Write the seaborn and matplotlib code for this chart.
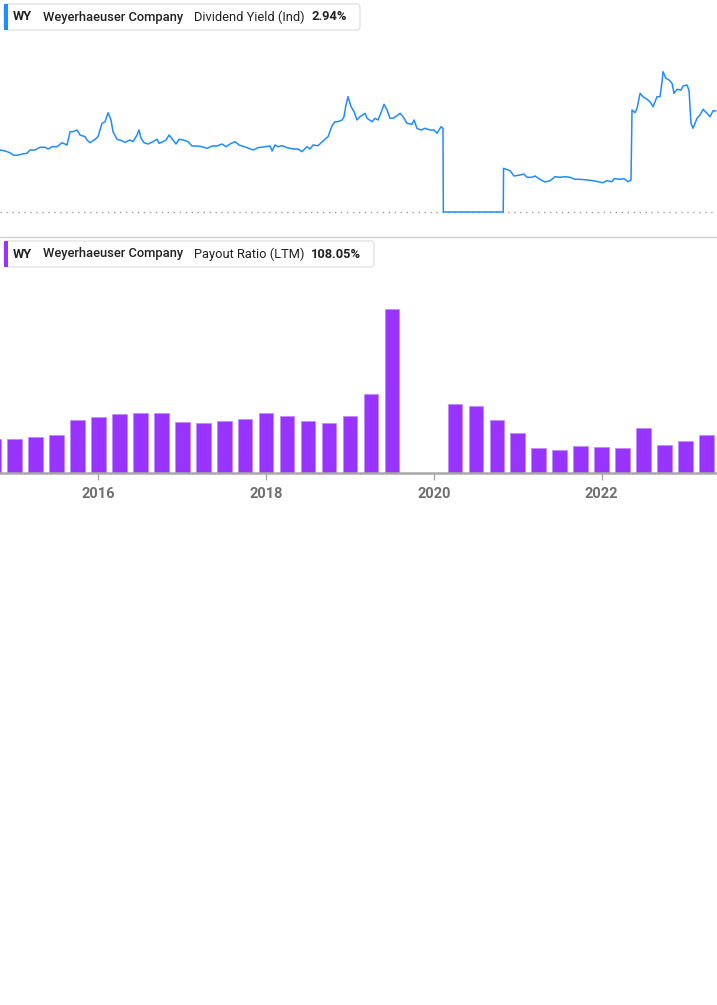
import numpy as np
import pandas as pd
import matplotlib
matplotlib.use("Agg")
import matplotlib.pyplot as plt
from matplotlib.patches import FancyBboxPatch, Rectangle
from matplotlib.lines import Line2D
import seaborn as sns

# ---------------- data ----------------
# Dividend yield (Ind), % — dates as decimal years
yield_dates = [
    2014.828, 2014.888, 2014.947, 2014.983, 2015.031, 2015.091, 2015.150, 2015.186,
    2015.246, 2015.305, 2015.365, 2015.401, 2015.448, 2015.508, 2015.567, 2015.627,
    2015.663, 2015.699, 2015.746, 2015.782, 2015.842, 2015.865, 2015.901, 2015.961,
    2015.996, 2016.044, 2016.080, 2016.116, 2016.151, 2016.175, 2016.223, 2016.247,
    2016.259, 2016.318, 2016.378, 2016.414, 2016.461, 2016.485, 2016.509, 2016.545,
    2016.592, 2016.652, 2016.700, 2016.724, 2016.771, 2016.807, 2016.843, 2016.890,
    2016.926, 2016.962, 2017.010, 2017.069, 2017.117, 2017.176, 2017.236, 2017.296,
    2017.355, 2017.415, 2017.474, 2017.522, 2017.570, 2017.629, 2017.677, 2017.773,
    2017.844, 2017.904, 2017.987, 2018.047, 2018.071, 2018.106, 2018.142, 2018.190,
    2018.249, 2018.321, 2018.380, 2018.428, 2018.488, 2018.523, 2018.559, 2018.619,
    2018.678, 2018.738, 2018.786, 2018.821, 2018.857, 2018.905, 2018.928, 2018.952,
    2018.976, 2019.012, 2019.048, 2019.083, 2019.119, 2019.179, 2019.203, 2019.262,
    2019.298, 2019.334, 2019.381, 2019.405, 2019.441, 2019.477, 2019.513, 2019.560,
    2019.596, 2019.632, 2019.679, 2019.739, 2019.763, 2019.798, 2019.846, 2019.894,
    2019.953, 2020.001, 2020.037, 2020.085, 2020.108, 2020.112, 2020.826, 2020.830,
    2020.907, 2020.955, 2021.026, 2021.074, 2021.110, 2021.169, 2021.205, 2021.265,
    2021.324, 2021.384, 2021.443, 2021.503, 2021.563, 2021.622, 2021.682, 2021.741,
    2021.825, 2021.896, 2021.956, 2022.016, 2022.063, 2022.123, 2022.147, 2022.218,
    2022.266, 2022.314, 2022.349, 2022.361, 2022.397, 2022.421, 2022.457, 2022.492,
    2022.540, 2022.576, 2022.612, 2022.636, 2022.659, 2022.695, 2022.719, 2022.731,
    2022.766, 2022.802, 2022.838, 2022.862, 2022.898, 2022.945, 2022.969, 2023.017,
    2023.041, 2023.064, 2023.088, 2023.136, 2023.172, 2023.208, 2023.255, 2023.291,
    2023.327, 2023.362,
]
yield_values = [
    1.805, 1.776, 1.726, 1.659, 1.651, 1.688, 1.709, 1.805,
    1.805, 1.884, 1.884, 1.834, 1.901, 1.901, 2.017, 1.950,
    2.338, 2.338, 2.387, 2.242, 2.192, 2.096, 2.017, 2.116,
    2.192, 2.582, 2.629, 2.891, 2.678, 2.338, 2.116, 2.096,
    2.096, 2.029, 2.096, 2.047, 2.242, 2.387, 2.145, 2.017,
    1.980, 2.047, 2.116, 2.000, 2.047, 2.096, 2.242, 2.096,
    1.980, 2.116, 2.096, 2.047, 1.921, 1.921, 1.901, 1.854,
    1.921, 1.921, 1.980, 1.901, 1.980, 2.047, 1.950, 1.872,
    1.805, 1.872, 1.901, 1.921, 1.776, 1.950, 1.901, 1.930,
    1.872, 1.834, 1.834, 1.755, 1.901, 1.834, 1.950, 1.930,
    2.067, 2.192, 2.512, 2.629, 2.629, 2.678, 2.774, 3.115,
    3.357, 3.065, 2.920, 2.678, 2.774, 2.873, 2.728, 2.629,
    2.728, 2.678, 2.969, 3.135, 2.969, 2.728, 2.728, 2.803,
    2.873, 2.774, 2.582, 2.553, 2.678, 2.437, 2.387, 2.437,
    2.387, 2.387, 2.291, 2.483, 2.437, 0.000, 0.000, 1.272,
    1.202, 1.048, 1.077, 1.106, 1.010, 1.010, 1.048, 0.952,
    0.873, 0.911, 1.028, 1.010, 1.028, 1.010, 0.952, 0.952,
    0.932, 0.911, 0.882, 0.853, 0.911, 0.882, 0.969, 0.952,
    0.969, 0.882, 0.932, 2.969, 2.891, 3.019, 3.455, 3.357,
    3.281, 3.211, 3.065, 3.211, 3.357, 3.357, 3.793, 4.084,
    3.892, 3.843, 3.746, 3.455, 3.572, 3.551, 3.668, 3.697,
    3.531, 2.582, 2.437, 2.728, 2.824, 2.990, 2.873, 2.774,
    2.949, 2.940,
]

# Payout ratio (LTM), % — quarter ends as decimal years (NaN = not shown)
payout_quarters = [
    2014.75, 2015.00, 2015.25, 2015.50, 2015.75, 2016.00, 2016.25, 2016.50,
    2016.75, 2017.00, 2017.25, 2017.50, 2017.75, 2018.00, 2018.25, 2018.50,
    2018.75, 2019.00, 2019.25, 2019.50, 2019.75, 2020.00, 2020.25, 2020.50,
    2020.75, 2021.00, 2021.25, 2021.50, 2021.75, 2022.00, 2022.25, 2022.50,
    2022.75, 2023.00, 2023.25,
]
payout_values = [
    96.6, 96.6, 102.2, 107.9, 150.5, 159.9, 167.6, 170.4,
    170.4, 144.8, 141.1, 146.8, 152.5, 170.4, 161.9, 146.8,
    142.0, 161.0, 224.4, 466.6, np.nan, np.nan, 195.1, 190.3,
    149.7, 113.6, 71.0, 65.3, 75.8, 73.0, 71.0, 128.7,
    80.4, 90.0, 107.9,
]

tick_years = [2016, 2018, 2020, 2022]
tick_labels = ["2016", "2018", "2020", "2022"]

ticker = "WY"
company = "Weyerhaeuser Company"
metric_top = "Dividend Yield (Ind)"
value_top = "2.94%"
metric_bottom = "Payout Ratio (LTM)"
value_bottom = "108.05%"

# ---------------- style ----------------
sns.set_theme(style="white")
plt.rcParams["font.family"] = ["Roboto", "DejaVu Sans"]

BLUE = "#1f8cff"
PURPLE = "#9933ff"
W, H = 717, 1005

fig = plt.figure(figsize=(W / 100, H / 100), dpi=100)
fig.patch.set_facecolor("white")

def fy(px):
    return 1 - px / H

xmin, xmax = 2014.828, 2023.374

# ---- top: dividend yield line ----
ax1 = fig.add_axes([0, fy(225), 1, 190 / H])
df_y = pd.DataFrame({"date": yield_dates, "yield": yield_values})
ax1.axhline(0, color="#9a9a9a", linestyle=(0, (1, 3.3)), lw=1.0, zorder=1)
sns.lineplot(data=df_y, x="date", y="yield", ax=ax1, color=BLUE,
             linewidth=1.1, estimator=None, sort=False, zorder=3)
scale_top = 34.35  # px per %
ymin1 = -(225 - 212) / scale_top
ax1.set_ylim(ymin1, ymin1 + 190 / scale_top)
ax1.set_xlim(xmin, xmax)
ax1.axis("off")

# ---- separator ----
fig.add_artist(Line2D([0, 1], [fy(237.5), fy(237.5)], transform=fig.transFigure,
                      color="#cfcfcf", lw=1.0))

# ---- bottom: payout ratio bars ----
ax2 = fig.add_axes([0, fy(473), 1, 193 / H])
df_p = pd.DataFrame({"quarter": payout_quarters, "payout": payout_values}).dropna()
sns.barplot(data=df_p, x="quarter", y="payout", ax=ax2, native_scale=True,
            color=PURPLE, saturation=1, width=0.7, edgecolor="#c08cff",
            linewidth=0.6, errorbar=None)
ax2.set_ylim(0, 193 * 2.84)
ax2.set_xlim(xmin, xmax)
for s in ["top", "left", "right"]:
    ax2.spines[s].set_visible(False)
ax2.spines["bottom"].set_color("#a8a8a8")
ax2.spines["bottom"].set_linewidth(1.8)
ax2.set_yticks([])
ax2.set_xticks(tick_years)
ax2.set_xticklabels(tick_labels)
ax2.tick_params(axis="x", length=5, width=1, color="#a8a8a8", pad=5,
                labelsize=10.5, labelcolor="#6f6f6f", bottom=True)
for lab in ax2.get_xticklabels():
    lab.set_fontweight("bold")
ax2.set_xlabel("")
ax2.set_ylabel("")
ax2.set_facecolor("none")

# ---- legend boxes ----
def legend_box(top, right, color, metric, value, value_x):
    x0, x1 = 4, right
    y0, y1 = top, top + 26
    box = FancyBboxPatch((x0 / W, fy(y1)), (x1 - x0) / W, 26 / H,
                         boxstyle="round,pad=0,rounding_size=0.004",
                         transform=fig.transFigure, facecolor="white",
                         edgecolor="#e3e3e3", lw=1.0)
    fig.add_artist(box)
    fig.add_artist(Rectangle((x0 / W, fy(y1)), 3.5 / W, 26 / H,
                             transform=fig.transFigure, facecolor=color,
                             edgecolor="none"))
    yc = fy((y0 + y1) / 2)
    fs = 9.3
    fig.text(13 / W, yc, ticker, fontsize=fs, fontweight="bold",
             color="#222222", va="center", ha="left")
    fig.text(43 / W, yc, company, fontsize=fs, fontweight="medium",
             color="#222222", va="center", ha="left")
    fig.text(194 / W, yc, metric, fontsize=fs, fontweight="normal",
             color="#222222", va="center", ha="left")
    fig.text(value_x / W, yc, value, fontsize=fs,
             fontweight="bold", color="#222222", va="center", ha="left")

legend_box(4, 360, BLUE, metric_top, value_top, 311)
legend_box(241, 374, PURPLE, metric_bottom, value_bottom, 311)

fig.savefig("out.png", dpi=100, facecolor="white")
